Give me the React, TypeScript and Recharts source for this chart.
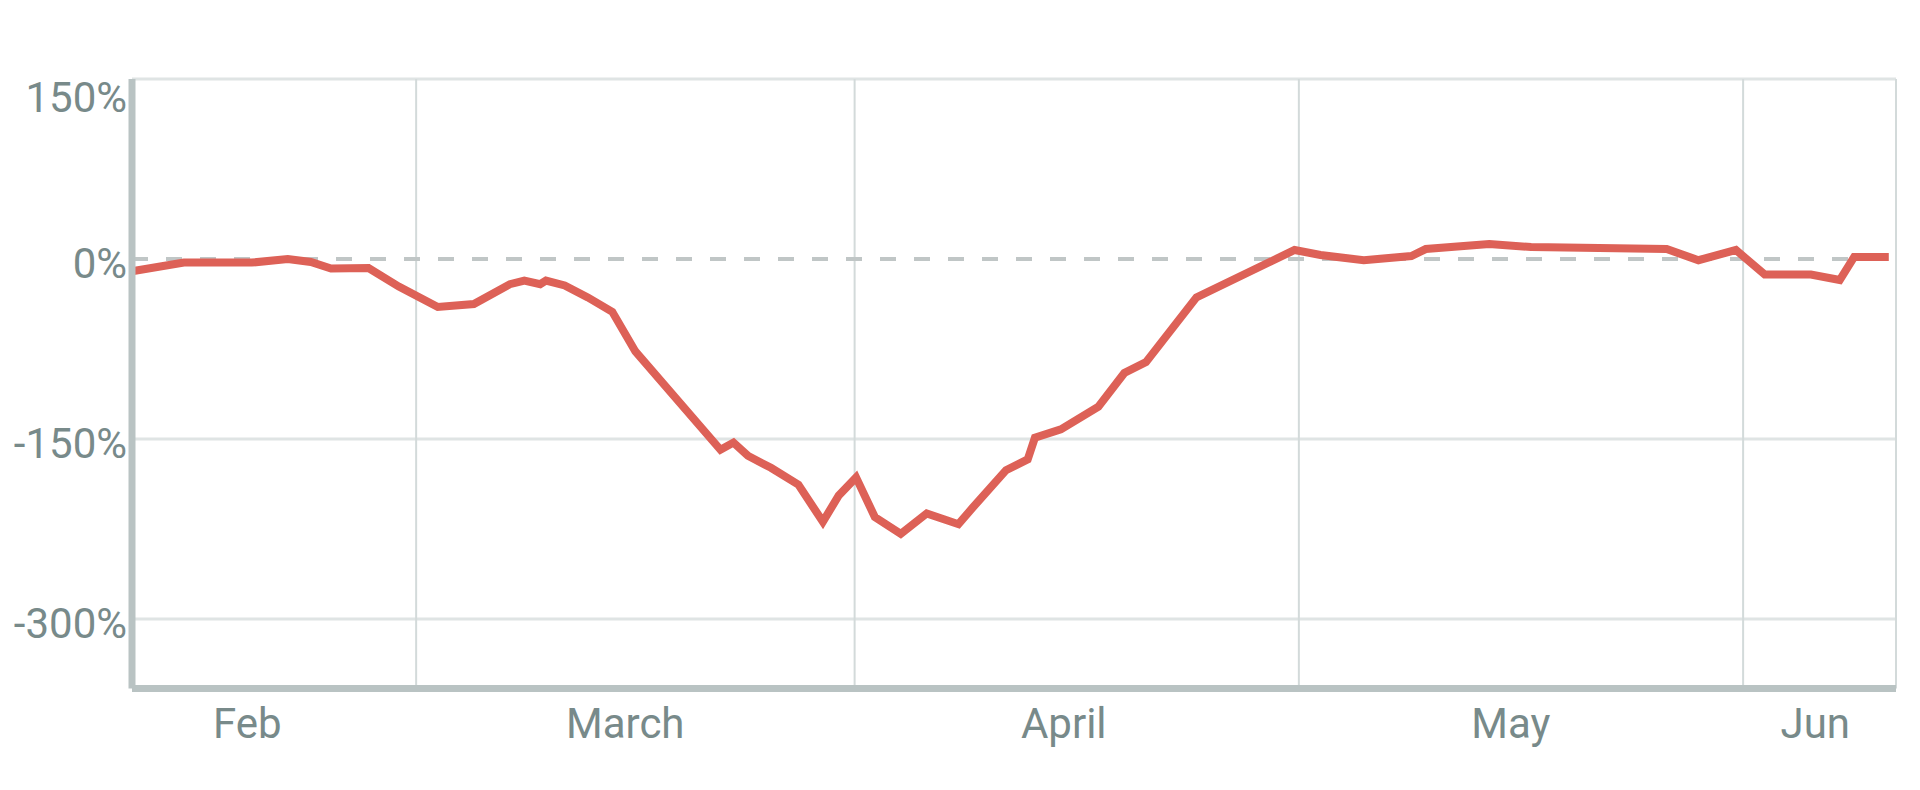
import { LineChart, Line, XAxis, YAxis, ReferenceLine } from 'recharts';

// x = days since Feb 1, y = percent change
const days = [
  8.4, 11.9, 13.9, 16.6, 19.1, 20.7, 22.1, 24.7, 26.8, 29.5,
  32.0, 34.5, 35.5, 36.6, 37.0, 38.3, 39.9, 41.6, 43.2, 49.1,
  50.0, 51.0, 52.6, 54.5, 56.2, 57.3, 58.5, 59.8, 61.6, 63.4,
  65.6, 66.6, 68.9, 70.4, 70.9, 72.7, 75.3, 77.1, 78.6, 82.1,
  88.9, 90.7, 93.7, 97.0, 98.0, 102.4, 105.3, 114.7, 116.9, 119.5,
  121.5, 124.7, 126.7, 127.7, 130.1,
];
const values = [
  -10, -3, -3, -3, 0, -2.5, -8, -7.5, -23, -40,
  -37.5, -21, -18, -21, -18, -22, -32, -44, -77, -159,
  -153, -164, -174, -188, -219, -197, -182, -215, -229, -212,
  -221, -207, -176, -167, -149, -142, -123, -95, -86, -32,
  7.5, 3.3, -1, 2.5, 8.3, 12.5, 10, 8.3, -1, 7.5,
  -13, -13, -17.5, 1.7, 1.7,
];

const monthNames = ['Feb', 'March', 'April', 'May', 'Jun'];
const monthLabelDays = [16.3, 42.5, 72.9, 103.9, 125.0];
const monthBoundaries = [28, 58.4, 89.2, 120, 130.6];
const yTicks = [150, 0, -150, -300];

const data = days.map((d, i) => ({ day: d, change: values[i] }));

const labelColor = '#788a8a';

const YTick = (props: any) => {
  const { x, y, payload } = props;
  const top = payload.value === 150;
  return (
    <text
      x={x}
      y={y}
      dy={top ? 18 : 4}
      textAnchor="end"
      dominantBaseline="central"
      fill={labelColor}
      fontSize={42}
    >
      {`${payload.value}%`}
    </text>
  );
};

const XTick = (props: any) => {
  const { x, y, payload } = props;
  const idx = monthLabelDays.indexOf(payload.value);
  return (
    <text x={x} y={y} dy={47} textAnchor="middle" fill={labelColor} fontSize={42}>
      {monthNames[idx]}
    </text>
  );
};

export default function App() {
  return (
    <div style={{ position: 'absolute', left: 0, top: 0, width: 1920, height: 790, background: '#fff' }}>
      <LineChart
        width={1920}
        height={790}
        data={data}
        margin={{ top: 79, right: 24, bottom: 41.4, left: 0 }}
        style={{ fontFamily: 'Roboto, sans-serif' }}
      >
        <XAxis
          dataKey="day"
          type="number"
          domain={[8.3, 130.6]}
          ticks={monthLabelDays}
          tick={<XTick />}
          tickLine={false}
          tickSize={0}
          height={60}
          axisLine={{ stroke: '#b9c3c3', strokeWidth: 7 }}
          allowDataOverflow
        />
        <YAxis
          type="number"
          domain={[-358, 150]}
          ticks={yTicks}
          tick={<YTick />}
          tickLine={false}
          tickSize={0}
          tickMargin={5}
          width={132}
          axisLine={{ stroke: '#b9c3c3', strokeWidth: 7 }}
          allowDataOverflow
        />
        {[150, -150, -300].map((v) => (
          <ReferenceLine key={`h${v}`} y={v} stroke="#dfe4e4" strokeWidth={3} />
        ))}
        {monthBoundaries.map((d) => (
          <ReferenceLine key={`v${d}`} x={d} stroke="#d3dada" strokeWidth={2} />
        ))}
        <ReferenceLine y={0} stroke="#c0c6c6" strokeWidth={4} strokeDasharray="16 18" />
        <Line
          type="linear"
          dataKey="change"
          stroke="#dd6157"
          strokeWidth={8}
          dot={false}
          activeDot={false}
          isAnimationActive={false}
        />
      </LineChart>
    </div>
  );
}
